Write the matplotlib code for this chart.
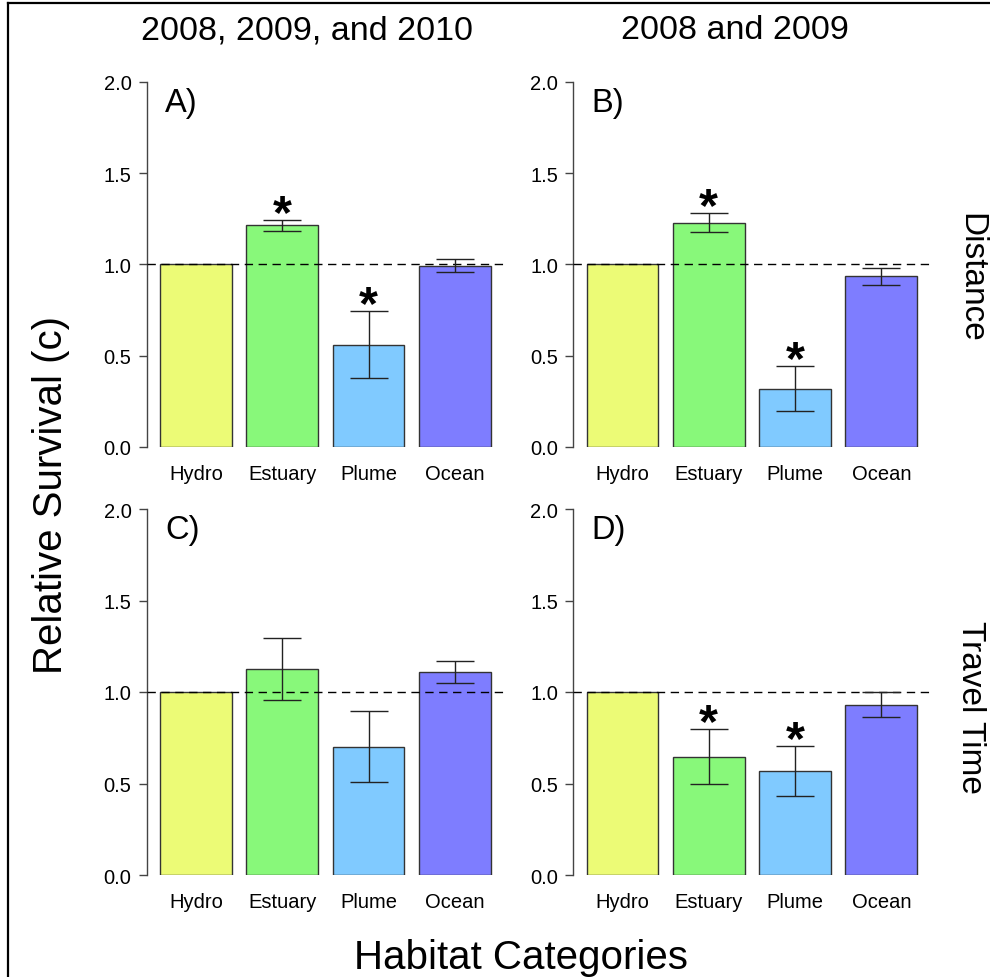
import matplotlib
matplotlib.use("Agg")
import matplotlib.pyplot as plt
from matplotlib.lines import Line2D

plt.rcParams['font.family'] = ['Liberation Sans', 'DejaVu Sans']

categories = ["Hydro", "Estuary", "Plume", "Ocean"]
colors = ["#ECFB76", "#88F87A", "#80CAFF", "#7E7DFF"]

# panel A: distance, 2008-2010
a_vals = [1.0, 1.217, 0.560, 0.993]
a_lo = [1.0, 1.181, 0.376, 0.960]
a_hi = [1.0, 1.244, 0.744, 1.029]
a_sig = [False, True, True, False]

# panel B: distance, 2008-2009
b_vals = [1.0, 1.228, 0.317, 0.934]
b_lo = [1.0, 1.177, 0.195, 0.887]
b_hi = [1.0, 1.279, 0.445, 0.980]
b_sig = [False, True, True, False]

# panel C: travel time, 2008-2010
c_vals = [1.0, 1.126, 0.701, 1.108]
c_lo = [1.0, 0.958, 0.508, 1.049]
c_hi = [1.0, 1.295, 0.896, 1.168]
c_sig = [False, False, False, False]

# panel D: travel time, 2008-2009
d_vals = [1.0, 0.646, 0.567, 0.931]
d_lo = [1.0, 0.496, 0.432, 0.863]
d_hi = [1.0, 0.798, 0.703, 1.000]
d_sig = [False, True, True, False]

panel_letters = ["A)", "B)", "C)", "D)"]
col_titles = ["2008, 2009, and 2010", "2008 and 2009"]
row_titles = ["Distance", "Travel Time"]

W, H = 990, 978
fig = plt.figure(figsize=(W / 100, H / 100), dpi=100)


def px_axes(x0, x1, ytop, ybot):
    return fig.add_axes([x0 / W, 1 - ybot / H, (x1 - x0) / W, (ybot - ytop) / H])


def panel(ax, vals, lo, hi, sig, letter):
    xs = [0.7 + 1.2 * i for i in range(len(vals))]
    ax.bar(xs, vals, width=1.0, color=colors, edgecolor="#333333", linewidth=1.0, zorder=2)
    ax.axhline(1.0, color="black", linestyle=(0, (6, 4)), linewidth=1.0, zorder=3)
    for x, v, l, h, s in zip(xs, vals, lo, hi, sig):
        if h - l > 0:
            ax.errorbar(x, v, yerr=[[v - l], [h - v]], fmt="none", ecolor="#222222",
                        elinewidth=1.0, capsize=13.5, capthick=1.0, zorder=4)
        if s:
            fs = 35
            ax.annotate("*", xy=(x, h + 0.1), xytext=(0, -0.52 * fs), textcoords="offset points",
                        ha="center", va="baseline", fontsize=fs, fontweight="bold")
    ax.set_xlim(0.016, 4.984)
    ax.set_ylim(0, 2)
    ax.set_yticks([0, 0.5, 1.0, 1.5, 2.0])
    ax.set_yticklabels(["0.0", "0.5", "1.0", "1.5", "2.0"])
    ax.set_xticks(xs)
    ax.set_xticklabels(categories)
    ax.tick_params(axis="x", length=0, pad=12, labelsize=14.5)
    ax.tick_params(axis="y", length=6, width=1.0, pad=5, labelsize=14.5, color="#444444")
    for side in ["top", "right", "bottom"]:
        ax.spines[side].set_visible(False)
    ax.spines["left"].set_color("#444444")
    ax.spines["left"].set_linewidth(1.0)
    ax.patch.set_visible(False)
    ax.text(0.27, 1.84, letter, fontsize=23.5, ha="left", va="baseline")


axA = px_axes(146.8, 504, 82.7, 448)
axB = px_axes(573.3, 930.5, 82.7, 448)
axC = px_axes(146.8, 504, 510, 876)
axD = px_axes(573.3, 930.5, 510, 876)

panel(axA, a_vals, a_lo, a_hi, a_sig, panel_letters[0])
panel(axB, b_vals, b_lo, b_hi, b_sig, panel_letters[1])
panel(axC, c_vals, c_lo, c_hi, c_sig, panel_letters[2])
panel(axD, d_vals, d_lo, d_hi, d_sig, panel_letters[3])

# column titles
fig.text(307 / W, 1 - 39 / H, col_titles[0], fontsize=24.5, ha="center", va="baseline")
fig.text(735 / W, 1 - 39 / H, col_titles[1], fontsize=24.5, ha="center", va="baseline")

# row titles on the right
fig.text(962 / W, 1 - 278 / H, row_titles[0], fontsize=24, rotation=-90,
         rotation_mode="anchor", ha="center", va="baseline")
fig.text(962 / W, 1 - 707 / H, row_titles[1], fontsize=24, rotation=-90,
         rotation_mode="anchor", ha="center", va="baseline")

# shared axis labels
fig.text(62 / W, 1 - 495 / H, "Relative Survival (c)", fontsize=29, rotation=90,
         rotation_mode="anchor", ha="center", va="baseline")
fig.text(521 / W, 1 - 969 / H, "Habitat Categories", fontsize=29, ha="center", va="baseline")

# frame around the figure (only left and top edges visible)
fig.add_artist(Line2D([7.5 / W, 7.5 / W], [0, 1 - 4 / H], color="black", linewidth=1.6,
                      transform=fig.transFigure))
fig.add_artist(Line2D([7.5 / W, 1.0], [1 - 4 / H, 1 - 4 / H], color="black", linewidth=1.6,
                      transform=fig.transFigure))

fig.savefig("out.png", dpi=100)
